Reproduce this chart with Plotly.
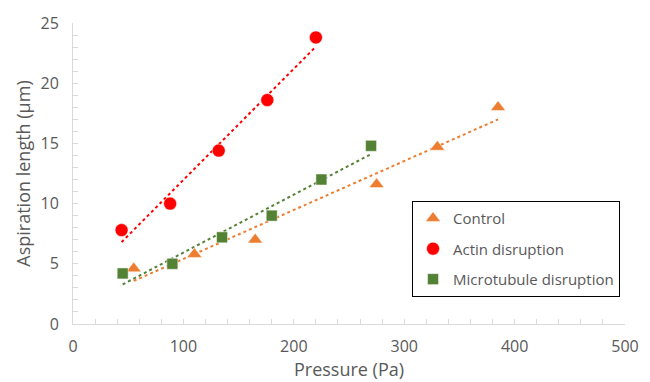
import numpy as np
import plotly.graph_objects as go

control_x = [55, 110, 165, 275, 330, 385]
control_y = [4.6, 5.8, 7.0, 11.6, 14.7, 18.0]
actin_x = [44, 88, 132, 176, 220]
actin_y = [7.8, 10.0, 14.4, 18.6, 23.8]
micro_x = [45, 90, 135, 180, 225, 270]
micro_y = [4.2, 5.0, 7.2, 9.0, 12.0, 14.8]

x_ticks = [0, 100, 200, 300, 400, 500]
y_ticks = [0, 5, 10, 15, 20, 25]

series = [
    ("Control", control_x, control_y, "#ED7D31", "triangle-up", 13),
    ("Actin disruption", actin_x, actin_y, "#FF0000", "circle", 13),
    ("Microtubule disruption", micro_x, micro_y, "#548235", "square", 11),
]

FONT = "Open Sans"
GREY = "#595959"

fig = go.Figure()
for name, xs, ys, col, sym, sz in series:
    xs_a = np.array(xs, dtype=float)
    slope, icpt = np.polyfit(xs_a, np.array(ys, dtype=float), 1)
    xl = np.array([xs_a.min(), xs_a.max()])
    fig.add_trace(go.Scatter(x=xl, y=slope * xl + icpt, mode="lines",
                             line=dict(color=col, width=2, dash="dot"),
                             showlegend=False, hoverinfo="skip"))
for name, xs, ys, col, sym, sz in series:
    fig.add_trace(go.Scatter(x=xs, y=ys, mode="markers", name=name,
                             legendgroup=name,
                             marker=dict(color=col, symbol=sym, size=sz,
                                         line=dict(color="white", width=0.5))))

axis_common = dict(showline=True, linecolor="#D9D9D9", linewidth=1,
                   showgrid=False, zeroline=False, ticks="inside",
                   ticklen=5, tickcolor="#D9D9D9", automargin=False,
                   tickfont=dict(family=FONT, size=16, color=GREY))
fig.update_xaxes(range=[0, 500], tickvals=x_ticks, ticklabelstandoff=8,
                 minor=dict(dtick=20, ticks="inside", ticklen=5, tickcolor="#D9D9D9"),
                 title=dict(text="Pressure (Pa)", font=dict(family=FONT, size=18, color=GREY), standoff=4),
                 **axis_common)
fig.update_yaxes(range=[0, 25], tickvals=y_ticks, ticklabelstandoff=10,
                 minor=dict(dtick=1, ticks="inside", ticklen=5, tickcolor="#D9D9D9"),
                 title=dict(text="Aspiration length (µm)", font=dict(family=FONT, size=18, color=GREY), standoff=5),
                 **axis_common)

# page body has an 8px default margin, so offset the plot margins accordingly
fig.update_layout(
    width=650, height=382,
    margin=dict(l=65, r=33, t=15, b=66),
    plot_bgcolor="white", paper_bgcolor="white",
    font=dict(family=FONT, color=GREY),
    legend=dict(x=0.991, y=0.409, xanchor="right", yanchor="top",
                bordercolor="black", borderwidth=1, bgcolor="white",
                font=dict(family=FONT, size=15, color=GREY),
                traceorder="grouped", tracegroupgap=8, itemwidth=30),
)

fig.write_html("out.html")
